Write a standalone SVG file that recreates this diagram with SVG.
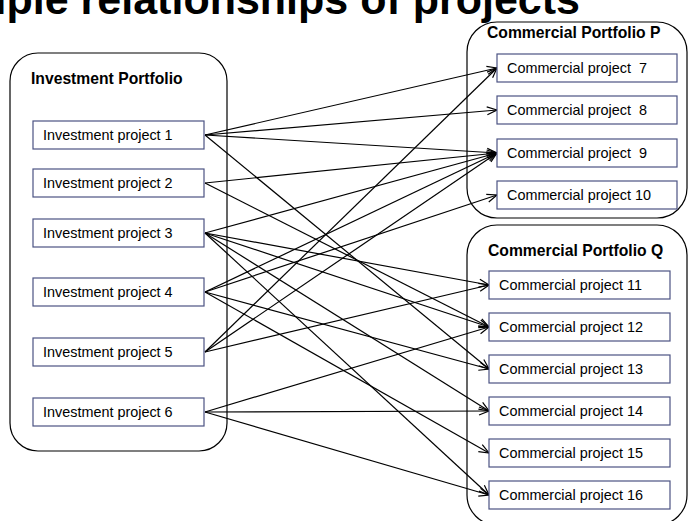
<svg xmlns="http://www.w3.org/2000/svg" width="688" height="521" viewBox="0 0 688 521">
<style>
.frame{fill:#ffffff;stroke:#000000;stroke-width:1.2}
.box{fill:#ffffff;stroke:#4b5383;stroke-width:1.2}
.title{font-family:"Liberation Sans",Arial,sans-serif;font-weight:bold;font-size:15.7px;fill:#000}
.lbl{font-family:"Liberation Sans",Arial,sans-serif;font-size:14.4px;fill:#000;white-space:pre}
.big{font-family:"Liberation Sans",Arial,sans-serif;font-weight:bold;font-size:43px;fill:#000}
.con line{stroke:#000;stroke-width:1.2;marker-end:url(#arr)}
</style>
<defs>
<marker id="arr" markerUnits="userSpaceOnUse" markerWidth="12" markerHeight="10" refX="11" refY="5" orient="auto">
<path d="M1,1 L11,5 L1,9" fill="none" stroke="#000" stroke-width="1.2"/>
</marker>
</defs>
<rect width="688" height="521" fill="#ffffff"/>
<text class="big" x="580" y="14" text-anchor="end">iple relationships of projects</text>

<g id="investment-portfolio">
<rect class="frame" x="10" y="53" width="217" height="398" rx="28" ry="28"/>
<text class="title" x="31" y="84">Investment Portfolio</text>
</g>
<g id="commercial-portfolio-p">
<rect class="frame" x="467" y="22" width="220" height="196" rx="30" ry="30"/>
<text class="title" x="487" y="38">Commercial Portfolio P</text>
</g>
<g id="commercial-portfolio-q">
<rect class="frame" x="467" y="225" width="220" height="300" rx="30" ry="30"/>
<text class="title" x="488" y="256">Commercial Portfolio Q</text>
</g>

<g id="connectors" class="con">
<line x1="205" y1="135" x2="497" y2="68"/>
<line x1="205" y1="135" x2="497" y2="110"/>
<line x1="205" y1="135" x2="497" y2="153"/>
<line x1="205" y1="135" x2="489" y2="369"/>
<line x1="205" y1="183" x2="497" y2="153"/>
<line x1="205" y1="183" x2="489" y2="327"/>
<line x1="205" y1="233" x2="497" y2="153"/>
<line x1="205" y1="233" x2="489" y2="285"/>
<line x1="205" y1="233" x2="489" y2="327"/>
<line x1="205" y1="233" x2="489" y2="411"/>
<line x1="205" y1="233" x2="489" y2="495"/>
<line x1="205" y1="292" x2="497" y2="153"/>
<line x1="205" y1="292" x2="497" y2="195"/>
<line x1="205" y1="292" x2="489" y2="369"/>
<line x1="205" y1="292" x2="489" y2="453"/>
<line x1="205" y1="352" x2="497" y2="68"/>
<line x1="205" y1="352" x2="497" y2="153"/>
<line x1="205" y1="352" x2="489" y2="285"/>
<line x1="205" y1="412" x2="489" y2="327"/>
<line x1="205" y1="412" x2="489" y2="411"/>
<line x1="205" y1="412" x2="489" y2="495"/>
</g>

<g id="investment-project-1"><rect class="box" x="33" y="121" width="171" height="28"/><text class="lbl" x="43" y="140">Investment project 1</text></g>
<g id="investment-project-2"><rect class="box" x="33" y="169" width="171" height="28"/><text class="lbl" x="43" y="188">Investment project 2</text></g>
<g id="investment-project-3"><rect class="box" x="33" y="219" width="171" height="28"/><text class="lbl" x="43" y="238">Investment project 3</text></g>
<g id="investment-project-4"><rect class="box" x="33" y="278" width="171" height="28"/><text class="lbl" x="43" y="297">Investment project 4</text></g>
<g id="investment-project-5"><rect class="box" x="33" y="338" width="171" height="28"/><text class="lbl" x="43" y="357">Investment project 5</text></g>
<g id="investment-project-6"><rect class="box" x="33" y="398" width="171" height="28"/><text class="lbl" x="43" y="417">Investment project 6</text></g>

<g id="commercial-project-7"><rect class="box" x="497" y="54" width="180" height="28"/><text class="lbl" x="507" y="73" xml:space="preserve">Commercial project  7</text></g>
<g id="commercial-project-8"><rect class="box" x="497" y="96" width="180" height="28"/><text class="lbl" x="507" y="115" xml:space="preserve">Commercial project  8</text></g>
<g id="commercial-project-9"><rect class="box" x="497" y="139" width="180" height="28"/><text class="lbl" x="507" y="158" xml:space="preserve">Commercial project  9</text></g>
<g id="commercial-project-10"><rect class="box" x="497" y="181" width="180" height="28"/><text class="lbl" x="507" y="200">Commercial project 10</text></g>

<g id="commercial-project-11"><rect class="box" x="489" y="271" width="181" height="28"/><text class="lbl" x="499" y="290">Commercial project 11</text></g>
<g id="commercial-project-12"><rect class="box" x="489" y="313" width="181" height="28"/><text class="lbl" x="499" y="332">Commercial project 12</text></g>
<g id="commercial-project-13"><rect class="box" x="489" y="355" width="181" height="28"/><text class="lbl" x="499" y="374">Commercial project 13</text></g>
<g id="commercial-project-14"><rect class="box" x="489" y="397" width="181" height="28"/><text class="lbl" x="499" y="416">Commercial project 14</text></g>
<g id="commercial-project-15"><rect class="box" x="489" y="439" width="181" height="28"/><text class="lbl" x="499" y="458">Commercial project 15</text></g>
<g id="commercial-project-16"><rect class="box" x="489" y="481" width="181" height="28"/><text class="lbl" x="499" y="500">Commercial project 16</text></g>
</svg>
